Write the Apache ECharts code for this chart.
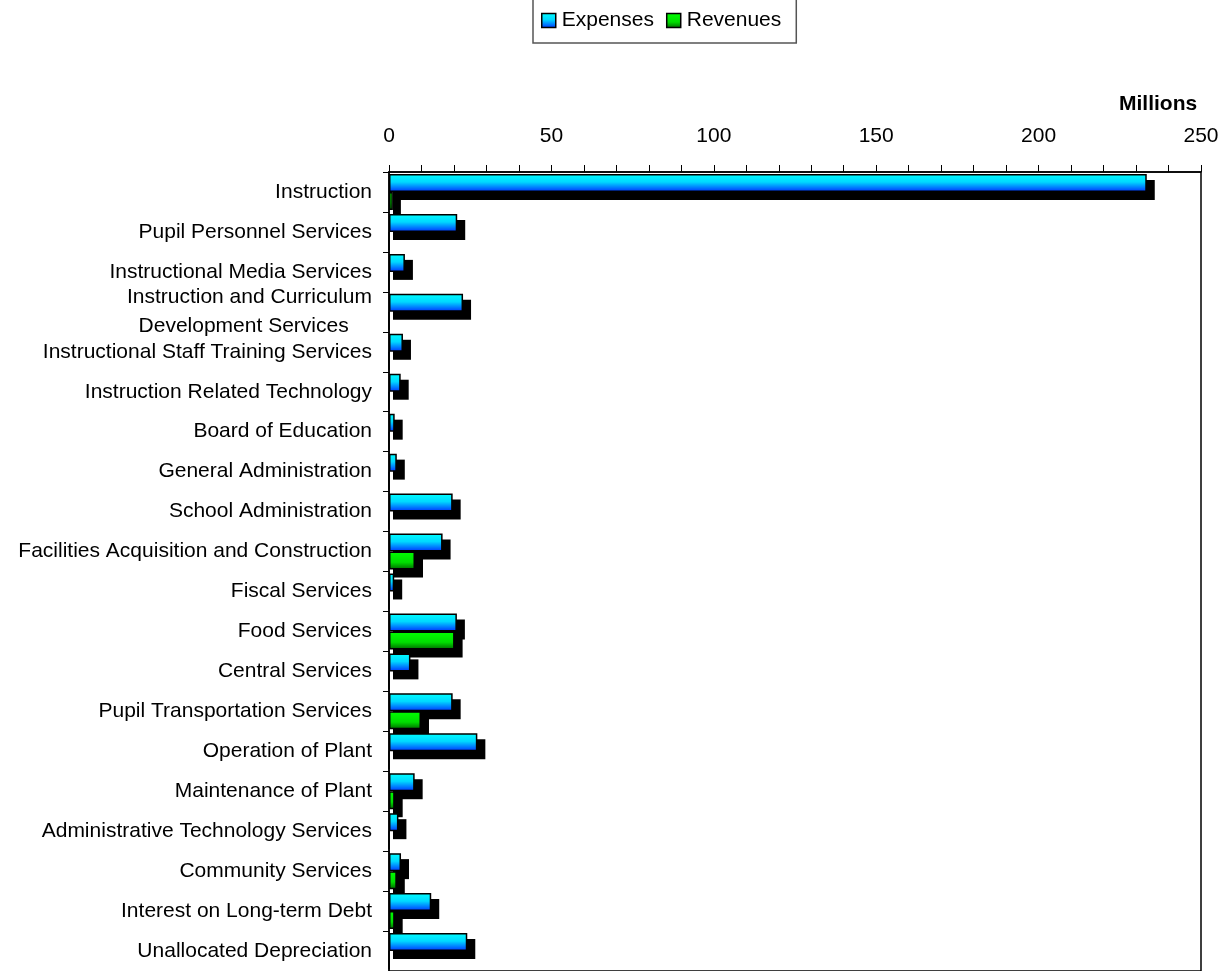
<!DOCTYPE html>
<html>
<head>
<meta charset="utf-8">
<script src="https://cdn.jsdelivr.net/npm/echarts@6/dist/echarts.min.js"></script>
<style>
html, body { margin: 0; padding: 0; background: #fff; }
#chart { width: 1231px; height: 971px; }
</style>
</head>
<body>
<div id="chart"></div>
<script>
var categories = ['Instruction', 'Pupil Personnel Services', 'Instructional Media Services',
	'Instruction and Curriculum\nDevelopment Services', 'Instructional Staff Training Services',
	'Instruction Related Technology', 'Board of Education', 'General Administration',
	'School Administration', 'Facilities Acquisition and Construction', 'Fiscal Services',
	'Food Services', 'Central Services', 'Pupil Transportation Services', 'Operation of Plant',
	'Maintenance of Plant', 'Administrative Technology Services', 'Community Services',
	'Interest on Long-term Debt', 'Unallocated Depreciation'];
var expenses = [233.3, 21.0, 4.9, 22.8, 4.3, 3.6, 1.75, 2.4, 19.6, 16.5, 1.6, 20.9, 6.6, 19.6, 27.2, 7.9, 2.9, 3.7, 13.0, 24.1];
var revenues = [1.2, 0, 0, 0, 0, 0, 0, 0, 0, 8.0, 0, 20.2, 0, 9.85, 0, 1.75, 0, 2.4, 1.75, 0];
var xTicks = [0, 50, 100, 150, 200, 250];

var chart = echarts.init(document.getElementById('chart'));
var font = 'Liberation Sans, Arial, sans-serif';
var BAR_W = 18;

function grad(c0, c1, c2, mid) {
	return new echarts.graphic.LinearGradient(0, 0, 0, 1, [
		{ offset: 0, color: c0 }, { offset: mid, color: c1 }, { offset: 1, color: c2 }
	]);
}

// black drop shadows behind both series (0 = expenses, 1 = revenues)
var shadowData = [];
categories.forEach(function (c, i) {
	shadowData.push([i, expenses[i], 0]);
	shadowData.push([i, revenues[i], 1]);
});

function renderShadow(params, api) {
	var idx = api.value(0), val = api.value(1), which = api.value(2);
	if (!val) return;
	var p0 = api.coord([0, idx]);
	var p1 = api.coord([val, idx]);
	var top = which === 0 ? p0[1] - BAR_W : p0[1];
	return {
		type: 'rect',
		shape: { x: p0[0] + 4, y: top + 6, width: p1[0] - p0[0] + 4, height: BAR_W + 2 },
		style: { fill: '#000' }
	};
}

option = {
	animation: false,
	title: {
		text: 'Millions',
		left: 1114,
		top: 89,
		textStyle: { fontFamily: font, fontSize: 21, fontWeight: 'bold', color: '#000' }
	},
	legend: {
		left: 533,
		top: -1,
		padding: [11, 15, 12, 8],
		borderColor: '#555',
		borderWidth: 1.5,
		icon: 'rect',
		itemWidth: 14,
		itemHeight: 14,
		itemGap: 12,
		textStyle: { fontFamily: font, fontSize: 21, color: '#000', padding: [0, 0, 0, 1] },
		itemStyle: { borderColor: '#000', borderWidth: 1.5 },
		data: ['Expenses', 'Revenues']
	},
	grid: {
		left: 389,
		top: 172,
		width: 812,
		height: 800,
		show: true,
		borderColor: '#000',
		borderWidth: 1.5,
		backgroundColor: 'transparent'
	},
	xAxis: {
		type: 'value',
		position: 'top',
		min: 0,
		max: 250,
		interval: 50,
		axisLine: { show: true, lineStyle: { color: '#000', width: 1.5 } },
		axisTick: { show: true, inside: false, length: 7, lineStyle: { color: '#000' } },
		minorTick: { show: true, splitNumber: 5, length: 7, lineStyle: { color: '#000' } },
		splitLine: { show: false },
		axisLabel: {
			margin: 25,
			fontFamily: font,
			fontSize: 21,
			color: '#000',
			formatter: function (v) { return xTicks.indexOf(v) >= 0 ? String(v) : ''; }
		}
	},
	yAxis: {
		type: 'category',
		inverse: true,
		data: categories,
		axisLine: { show: true, lineStyle: { color: '#000', width: 1.5 } },
		axisTick: { show: true, inside: false, length: 6, lineStyle: { color: '#000' } },
		axisLabel: {
			margin: 17,
			fontFamily: font,
			fontSize: 21,
			lineHeight: 29,
			color: '#000',
			formatter: function (v) {
				return v.indexOf('\n') >= 0 ? v + '    ' : v;
			}
		}
	},
	series: [{
		type: 'custom',
		name: 'shadow',
		z: 1,
		silent: true,
		renderItem: renderShadow,
		encode: { x: 1, y: 0 },
		data: shadowData
	}, {
		name: 'Expenses',
		type: 'bar',
		z: 3,
		barWidth: BAR_W,
		barGap: '0%',
		data: expenses,
		itemStyle: { color: grad('#00ffff', '#00d8ff', '#0030ff', 0.45), borderColor: '#000', borderWidth: 1.5 }
	}, {
		name: 'Revenues',
		type: 'bar',
		z: 3,
		barWidth: BAR_W,
		barGap: '0%',
		data: revenues,
		itemStyle: { color: grad('#00ff00', '#00dd00', '#006600', 0.6), borderColor: '#000', borderWidth: 1.5 }
	}]
};
chart.setOption(option);
window.addEventListener('resize', function () {
	chart.resize();
});
</script>
</body>
</html>
